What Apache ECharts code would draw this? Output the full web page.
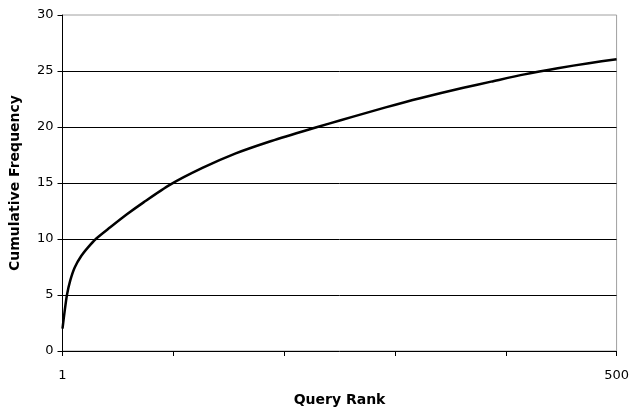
<!DOCTYPE html>
<html><head><meta charset="utf-8">
<script src="https://cdn.jsdelivr.net/npm/echarts@6/dist/echarts.min.js"></script>
<style>html,body{margin:0;padding:0;background:#fff}#c{width:632px;height:417px}</style>
</head><body><div id="c"></div>
<script>
var ranks  = [1, 3, 5, 8, 12, 18, 24, 31, 44, 59, 74, 98, 127, 157, 187, 217, 241, 262, 292, 322, 362, 387, 417, 447, 475, 500];
var freqs  = [2.0, 3.6, 5.0, 6.3, 7.46, 8.5, 9.25, 10.0, 11.04, 12.2, 13.27, 14.85, 16.34, 17.64, 18.68, 19.6, 20.3, 20.9, 21.75, 22.55, 23.5, 24.05, 24.7, 25.25, 25.7, 26.05];
var xTicks = [1, 100.8, 200.6, 300.4, 400.2, 500];
var xLabels = [1, 500];
var yTicks = [0, 5, 10, 15, 20, 25, 30];
var xTitle = 'Query Rank';
var yTitle = 'Cumulative Frequency';

var font = 'DejaVu Sans';
var chart = echarts.init(document.getElementById('c'), null, {renderer: 'canvas'});
chart.setOption({
  animation: false,
  grid: {left: 62.5, right: 12, top: 15, bottom: 66, show: true, borderColor: '#a0a0a0', borderWidth: 1, backgroundColor: 'transparent'},
  xAxis: {
    type: 'value', min: 1, max: 500,
    name: xTitle, nameLocation: 'middle', nameGap: 42,
    nameTextStyle: {fontFamily: font, fontWeight: 'bold', fontSize: 14, color: '#000'},
    axisLine: {lineStyle: {color: '#000', width: 1}},
    axisTick: {show: true, length: 5, lineStyle: {color: '#000'}, customValues: xTicks},
    axisLabel: {customValues: xLabels, margin: 18, fontFamily: font, fontSize: 13, color: '#000'},
    splitLine: {show: false}
  },
  yAxis: {
    type: 'value', min: 0, max: 30, interval: 5,
    name: yTitle, nameLocation: 'middle', nameGap: 40, nameRotate: 90,
    nameTextStyle: {fontFamily: font, fontWeight: 'bold', fontSize: 14, color: '#000'},
    axisLine: {show: true, lineStyle: {color: '#000', width: 1}},
    axisTick: {show: true, length: 5, lineStyle: {color: '#000'}},
    axisLabel: {margin: 9, fontFamily: font, fontSize: 13, color: '#000', customValues: yTicks},
    splitLine: {show: true, showMinLine: false, showMaxLine: false, lineStyle: {color: '#000', width: 1}}
  },
  series: [{
    type: 'line',
    data: ranks.map(function (r, i) { return [r, freqs[i]]; }),
    showSymbol: false, smooth: 0.25,
    lineStyle: {color: '#000', width: 2.5}
  }]
});
</script></body></html>
